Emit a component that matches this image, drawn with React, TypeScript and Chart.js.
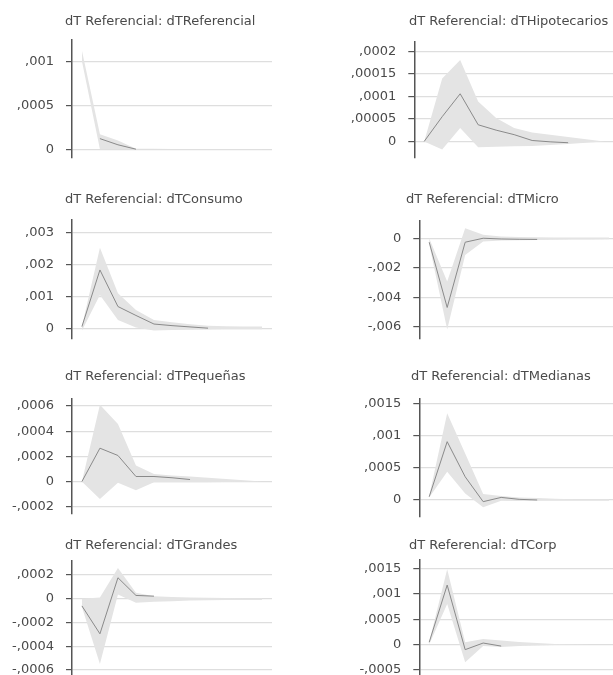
import React, { useEffect, useRef } from "react";
import { Chart, registerables } from "chart.js";

Chart.register(...registerables);

// ---------- data ----------
const periods = [0, 1, 2, 3, 4, 5, 6, 7, 8, 9, 10];

const titles = [
  "dT Referencial: dTReferencial",
  "dT Referencial: dTHipotecarios",
  "dT Referencial: dTConsumo",
  "dT Referencial: dTMicro",
  "dT Referencial: dTPequeñas",
  "dT Referencial: dTMedianas",
  "dT Referencial: dTGrandes",
  "dT Referencial: dTCorp",
];

// dTReferencial
const referencialIrf = [null, 0.00012, 0.00005, 0.0, null, null, null, null, null, null, null];
const referencialUpper = [0.00112, 0.00017, 0.0001, 0.000005, 0.000004, 0.000003, 0.000003, 0.000002, 0.000002, 0.000002, 0.000002];
const referencialLower = [0.001, 0.0, 0.0, -0.000002, -0.000002, -0.000002, -0.000002, -0.000002, -0.000002, -0.000002, -0.000002];
const referencialTicks = [0, 0.0005, 0.001];

// dTHipotecarios
const hipotecariosIrf = [0, 0.000055, 0.000106, 0.000037, 0.000025, 0.000015, 0.000002, -0.000001, -0.000003, null, null];
const hipotecariosUpper = [0, 0.00014, 0.000181, 0.000089, 0.000052, 0.00003, 0.00002, 0.000015, 0.00001, 0.000005, 0];
const hipotecariosLower = [0, -0.000018, 0.00003, -0.000013, -0.000012, -0.000011, -0.00001, -0.000008, -0.000006, -0.000003, 0];
const hipotecariosTicks = [0, 0.00005, 0.0001, 0.00015, 0.0002];

// dTConsumo
const consumoIrf = [0.00005, 0.00183, 0.00068, 0.0004, 0.00013, 0.00008, 0.00004, 0.0, null, null, null];
const consumoUpper = [0.00005, 0.00253, 0.0011, 0.00057, 0.00026, 0.00019, 0.00012, 0.00008, 0.00006, 0.00005, 0.00005];
const consumoLower = [-0.00008, 0.00104, 0.00026, 0.00002, -0.00007, -0.00006, -0.00005, -0.00004, -0.00003, -0.00003, -0.00003];
const consumoTicks = [0, 0.001, 0.002, 0.003];

// dTMicro
const microIrf = [-0.00027, -0.0047, -0.00027, 0.0, -0.00005, -0.00007, -0.00008, null, null, null, null];
const microUpper = [0.0, -0.00294, 0.00068, 0.00023, 0.00011, 0.00008, 0.00006, 0.00005, 0.00005, 0.00005, 0.00005];
const microLower = [-0.0004, -0.0062, -0.00113, -0.00023, -0.00016, -0.00014, -0.00012, -0.0001, -0.00009, -0.00008, -0.00007];
const microTicks = [-0.006, -0.004, -0.002, 0];

// dTPequeñas
const pequenasIrf = [0, 0.000265, 0.000207, 0.00004, 0.00004, 0.00003, 0.000016, null, null, null, null];
const pequenasUpper = [0, 0.00061, 0.000458, 0.000127, 0.00006, 0.000048, 0.00004, 0.00003, 0.00002, 0.00001, 0];
const pequenasLower = [0, -0.000138, -0.00001, -0.00007, -0.000005, -0.000005, -0.000005, -0.000005, -0.000004, -0.000002, 0];
const pequenasTicks = [-0.0002, 0, 0.0002, 0.0004, 0.0006];

// dTMedianas
const medianasIrf = [0.00005, 0.000905, 0.00036, -0.000026, 0.00004, 0.00001, 0.0, null, null, null, null];
const medianasUpper = [0.00006, 0.001345, 0.00072, 0.000093, 0.00006, 0.00004, 0.00003, 0.00002, 0.00001, 0.00001, 0.00001];
const medianasLower = [0.00004, 0.00044, 0.0001, -0.000114, -0.00001, -0.000015, -0.00001, -0.00001, -0.00001, -0.00001, -0.00001];
const medianasTicks = [0, 0.0005, 0.001, 0.0015];

// dTGrandes
const grandesIrf = [-0.00006, -0.000295, 0.000177, 0.000028, 0.000022, null, null, null, null, null, null];
const grandesUpper = [0.0, 0.00001, 0.00026, 0.00005, 0.000022, 0.000015, 0.00001, 0.000008, 0.000006, 0.000005, 0.000005];
const grandesLower = [-0.00007, -0.00055, 0.000036, -0.000034, -0.000025, -0.00002, -0.000015, -0.000012, -0.00001, -0.00001, -0.00001];
const grandesTicks = [-0.0006, -0.0004, -0.0002, 0, 0.0002];

// dTCorp
const corpIrf = [0.000046, 0.00117, -0.0001, 0.00003, -0.00003, null, null, null, null, null, null];
const corpUpper = [0.00005, 0.00148, 0.000046, 0.00011, 0.00008, 0.00005, 0.00003, 0.00001, 0.000005, 0, 0];
const corpLower = [0.0, 0.0008, -0.00035, -0.00003, -0.00005, -0.00003, -0.00002, -0.00001, -0.000005, 0, 0];
const corpTicks = [-0.0005, 0, 0.0005, 0.001, 0.0015];

// ---------- layout ----------
type Layout = {
  canvasLeft: number;
  axisX: number;
  axisTop: number;
  axisBottom: number;
  titleX: number;
  titleY: number;
  yMin: number;
  yMax: number;
};

const PLOT_W = 200;
const X_MIN = -0.55;
const X_MAX = 10.55;

const panels: { title: string; irf: (number | null)[]; upper: number[]; lower: number[]; ticks: number[]; layout: Layout }[] = [
  { title: titles[0], irf: referencialIrf, upper: referencialUpper, lower: referencialLower, ticks: referencialTicks,
    layout: { canvasLeft: 0, axisX: 72, axisTop: 40, axisBottom: 158, titleX: 65, titleY: 21.7, yMin: -0.0001, yMax: 0.00124 } },
  { title: titles[1], irf: hipotecariosIrf, upper: hipotecariosUpper, lower: hipotecariosLower, ticks: hipotecariosTicks,
    layout: { canvasLeft: 306, axisX: 414.3, axisTop: 41.7, axisBottom: 158.3, titleX: 409, titleY: 21.7, yMin: -0.000037, yMax: 0.000222 } },
  { title: titles[2], irf: consumoIrf, upper: consumoUpper, lower: consumoLower, ticks: consumoTicks,
    layout: { canvasLeft: 0, axisX: 72, axisTop: 220, axisBottom: 339, titleX: 65, titleY: 200, yMin: -0.00034, yMax: 0.0034 } },
  { title: titles[3], irf: microIrf, upper: microUpper, lower: microLower, ticks: microTicks,
    layout: { canvasLeft: 306, axisX: 419.3, axisTop: 221, axisBottom: 339, titleX: 406, titleY: 200, yMin: -0.00684, yMax: 0.00117 } },
  { title: titles[4], irf: pequenasIrf, upper: pequenasUpper, lower: pequenasLower, ticks: pequenasTicks,
    layout: { canvasLeft: 0, axisX: 72, axisTop: 399, axisBottom: 514, titleX: 65, titleY: 377, yMin: -0.000258, yMax: 0.000656 } },
  { title: titles[5], irf: medianasIrf, upper: medianasUpper, lower: medianasLower, ticks: medianasTicks,
    layout: { canvasLeft: 306, axisX: 419.3, axisTop: 399, axisBottom: 517, titleX: 411, titleY: 376.7, yMin: -0.000264, yMax: 0.001567 } },
  { title: titles[6], irf: grandesIrf, upper: grandesUpper, lower: grandesLower, ticks: grandesTicks,
    layout: { canvasLeft: 0, axisX: 72, axisTop: 561, axisBottom: 680, titleX: 65, titleY: 545.7, yMin: -0.000684, yMax: 0.000318 } },
  { title: titles[7], irf: corpIrf, upper: corpUpper, lower: corpLower, ticks: corpTicks,
    layout: { canvasLeft: 306, axisX: 419.3, axisTop: 560, axisBottom: 680, titleX: 409, titleY: 545.7, yMin: -0.000697, yMax: 0.001663 } },
];

function fmt(v: number): string {
  if (Math.abs(v) < 1e-12) return "0";
  const s = Math.abs(v).toFixed(6).replace(/0+$/, "").replace(/^0\./, ",");
  return (v < 0 ? "-" : "") + s;
}

const FONT = "'DejaVu Sans', sans-serif";
const TEXT = "#4a4a4a";

const titlePlugin = {
  id: "panelTitle",
  afterDraw(chart: any, _args: any, opts: any) {
    const ctx = chart.ctx;
    ctx.save();
    ctx.font = `13px ${FONT}`;
    ctx.fillStyle = TEXT;
    ctx.textBaseline = "middle";
    ctx.textAlign = "left";
    ctx.fillText(opts.text, opts.x, opts.y);
    ctx.restore();
  },
};

const BOTTOM_PAD = 12;

function Panel(props: { p: (typeof panels)[number] }) {
  const { p } = props;
  const ref = useRef<HTMLCanvasElement | null>(null);
  const L = p.layout;
  const canvasTop = Math.floor(L.titleY - 12);
  const width = Math.round(L.axisX - L.canvasLeft + PLOT_W);
  const height = Math.round(L.axisBottom - canvasTop + BOTTOM_PAD);
  const yAxisW = L.axisX - L.canvasLeft;

  useEffect(() => {
    if (!ref.current) return;
    const toXY = (arr: (number | null)[]) => periods.map((x, i) => ({ x, y: arr[i] }));
    const chart = new Chart(ref.current, {
      type: "line",
      data: {
        datasets: [
          {
            label: "irf",
            data: toXY(p.irf) as any,
            borderColor: "#8a8a8a",
            borderWidth: 1,
            pointRadius: 0,
            fill: false,
            tension: 0,
            spanGaps: false,
            order: 0,
          },
          {
            label: "lower",
            data: toXY(p.lower) as any,
            borderWidth: 0,
            borderColor: "rgba(0,0,0,0)",
            pointRadius: 0,
            fill: false,
            order: 2,
          },
          {
            label: "upper",
            data: toXY(p.upper) as any,
            borderWidth: 0,
            borderColor: "rgba(0,0,0,0)",
            backgroundColor: "#e4e4e4",
            pointRadius: 0,
            fill: "-1",
            order: 1,
          },
        ],
      },
      options: {
        responsive: false,
        animation: false,
        devicePixelRatio: 1,
        layout: {
          padding: { left: 0, right: 0, top: L.axisTop - canvasTop, bottom: BOTTOM_PAD },
        },
        plugins: {
          legend: { display: false },
          tooltip: { enabled: false },
          title: { display: false },
          panelTitle: { text: p.title, x: L.titleX - L.canvasLeft, y: L.titleY - canvasTop },
        } as any,
        scales: {
          x: { type: "linear", min: X_MIN, max: X_MAX, display: false },
          y: {
            type: "linear",
            min: L.yMin,
            max: L.yMax,
            afterBuildTicks: (scale: any) => {
              scale.ticks = p.ticks.map((value) => ({ value }));
            },
            afterFit: (scale: any) => {
              scale.width = yAxisW;
              scale.paddingTop = 0;
              scale.paddingBottom = 0;
            },
            grid: {
              color: "#dedede",
              lineWidth: 1.2,
              tickLength: 6,
              tickColor: "#555555",
              drawTicks: true,
              drawOnChartArea: true,
            },
            border: { display: true, color: "#555555", width: 1.5 },
            ticks: {
              padding: 12,
              color: TEXT,
              font: { family: FONT, size: 13 },
              callback: (v: any) => fmt(Number(v)),
            },
          },
        },
      },
      plugins: [titlePlugin],
    });
    return () => chart.destroy();
  }, []);

  return (
    <canvas
      ref={ref}
      width={width}
      height={height}
      style={{ position: "absolute", left: L.canvasLeft, top: canvasTop, width, height }}
    />
  );
}

export default function App() {
  return (
    <div
      style={{
        position: "fixed",
        left: 0,
        top: 0,
        width: 613,
        height: 675,
        overflow: "hidden",
        background: "#ffffff",
      }}
    >
      {panels.map((p, i) => (
        <Panel key={i} p={p} />
      ))}
    </div>
  );
}
